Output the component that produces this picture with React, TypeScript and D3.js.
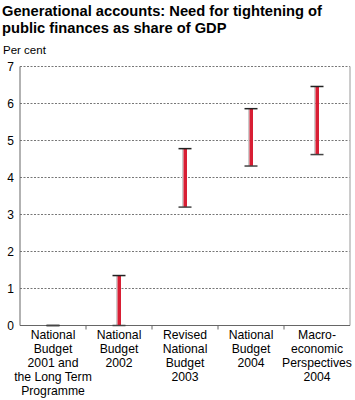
import React from "react";
import * as d3 from "d3";

const categories = [
  ["National", "Budget", "2001 and", "the Long Term", "Programme"],
  ["National", "Budget", "2002"],
  ["Revised", "National", "Budget", "2003"],
  ["National", "Budget", "2004"],
  ["Macro-", "economic", "Perspectives", "2004"],
];
const lowValues = [0, 0, 3.2, 4.31, 4.62];
const highValues = [0, 1.35, 4.78, 5.86, 6.46];
const yTicks = [0, 1, 2, 3, 4, 5, 6, 7];

export default function App() {
  const W = 355, H = 400;
  const left = 20, right = 350, top = 66.5, bottom = 325.5;
  const x = d3.scaleBand<number>().domain(categories.map((_, i) => i)).range([left, right]);
  const y = d3.scaleLinear().domain([0, 7]).range([bottom, top]);
  const font = "Liberation Sans, Arial, sans-serif";
  return (
    <svg width={W} height={H} style={{ position: "absolute", left: 0, top: 0 }} fontFamily={font}>
      <rect width={W} height={H} fill="#fff" />
      <text x={2} y={16} fontSize={14.7} fontWeight="bold" fill="#000">Generational accounts: Need for tightening of</text>
      <text x={2} y={33} fontSize={14.7} fontWeight="bold" fill="#000">public finances as share of GDP</text>
      <text x={3} y={54} fontSize={11.5} fill="#000">Per cent</text>
      {yTicks.map((t) => (
        <g key={t}>
          {t > 0 && (
            <line x1={left} x2={right} y1={y(t)} y2={y(t)} stroke="#777" strokeWidth={1} strokeDasharray="2,1.5" />
          )}
          <text x={14} y={y(t) + 4} textAnchor="end" fontSize={12} fill="#000">{t}</text>
        </g>
      ))}
      <line x1={right} x2={right} y1={top} y2={bottom} stroke="#bbb" strokeWidth={1.5} />
      <line x1={left} x2={left} y1={top} y2={bottom} stroke="#666" strokeWidth={1} />
      <line x1={left} x2={right} y1={bottom} y2={bottom} stroke="#666" strokeWidth={1} />
      {categories.map((_, i) => (
        i > 0 ? <line key={"t" + i} x1={x(i)!} x2={x(i)!} y1={bottom} y2={bottom + 4} stroke="#666" /> : null
      ))}
      {categories.map((lines, i) => {
        const cx = x(i)! + x.bandwidth() / 2;
        const y1 = y(lowValues[i]);
        const y2 = y(highValues[i]);
        return (
          <g key={i}>
            {y1 - y2 > 0 && (
              <>
                <rect x={cx - 3} y={y2} width={1.5} height={y1 - y2} fill="#ccc" />
                <rect x={cx - 1.5} y={y2} width={3.5} height={y1 - y2} fill="#d81e34" />
              </>
            )}
            <line x1={cx - 6.5} x2={cx + 6.5} y1={y2} y2={y2} stroke="#222" strokeWidth={1.5} />
            <line x1={cx - 6.5} x2={cx + 6.5} y1={y1} y2={y1} stroke="#444" strokeWidth={1.5} />
            {lines.map((l, j) => (
              <text key={j} x={cx} y={339 + j * 14} textAnchor="middle" fontSize={12.2} fill="#000">{l}</text>
            ))}
          </g>
        );
      })}
    </svg>
  );
}
